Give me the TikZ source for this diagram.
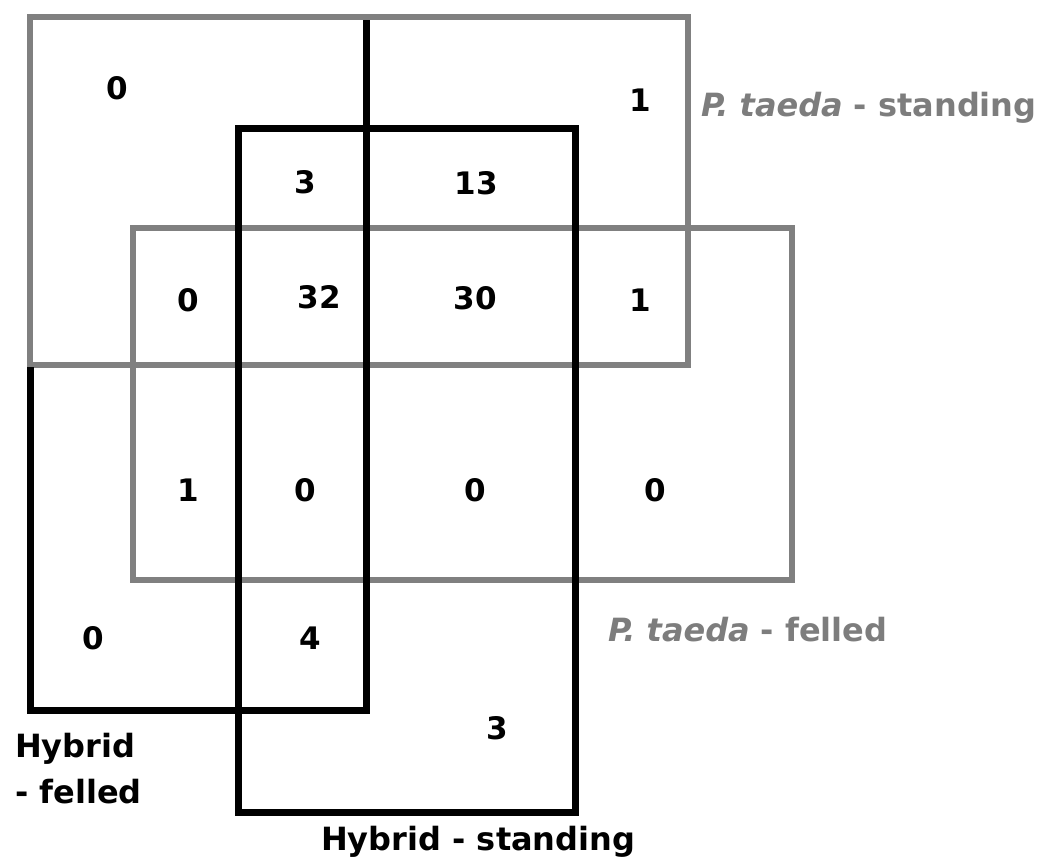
\documentclass[tikz,border=0pt]{standalone}
\usepackage{fontspec}
\setmainfont{DejaVu Sans}
\definecolor{setgray}{RGB}{128,128,128}
\definecolor{labelgray}{RGB}{125,125,125}
\tikzset{
  graybox/.style={draw=setgray, line width=6pt},
  blackbox/.style={draw=black, line width=7pt, line join=miter},
  count/.style={font=\fontsize{31}{36}\selectfont\bfseries, inner sep=0pt},
  setlabel/.style={font=\fontsize{32}{46}\selectfont\bfseries, inner sep=0pt},
}
\begin{document}
\begin{tikzpicture}[x=1pt, y=-1pt]
  \useasboundingbox (0,0) rectangle (1049,865);
  \fill[white] (0,0) rectangle (1049,865);

  % P. taeda sets (grey outlines)
  \draw[graybox] (30,17) rectangle (688,365);
  \draw[graybox] (133,228) rectangle (792,580);

  % Hybrid sets (black outlines)
  \draw[blackbox] (30,367) -- (30,710) -- (366,710) -- (366,20);
  \draw[blackbox] (238,128) rectangle (575,812);

  % counts per region
  \node[count] (n1)  at (117,88)  {0};
  \node[count] (n2)  at (640,100) {1};
  \node[count] (n3)  at (305,182) {3};
  \node[count] (n4)  at (476,183) {13};
  \node[count] (n5)  at (188,300) {0};
  \node[count] (n6)  at (319,297) {32};
  \node[count] (n7)  at (475,298) {30};
  \node[count] (n8)  at (640,300) {1};
  \node[count] (n9)  at (188,490) {1};
  \node[count] (n10) at (305,490) {0};
  \node[count] (n11) at (475,490) {0};
  \node[count] (n12) at (655,490) {0};
  \node[count] (n13) at (93,638)  {0};
  \node[count] (n14) at (310,638) {4};
  \node[count] (n15) at (497,728) {3};

  % set labels
  \node[setlabel, text=labelgray, anchor=west] (lps) at (701,108)
    {\textit{P. taeda} - standing};
  \node[setlabel, text=labelgray, anchor=west] (lpf) at (608,630)
    {\textit{P. taeda} - felled};
  \node[setlabel, anchor=north west, align=left] (lhf) at (15,733)
    {Hybrid\\- felled};
  \node[setlabel, anchor=west] (lhs) at (321,842) {Hybrid - standing};
\end{tikzpicture}
\end{document}
